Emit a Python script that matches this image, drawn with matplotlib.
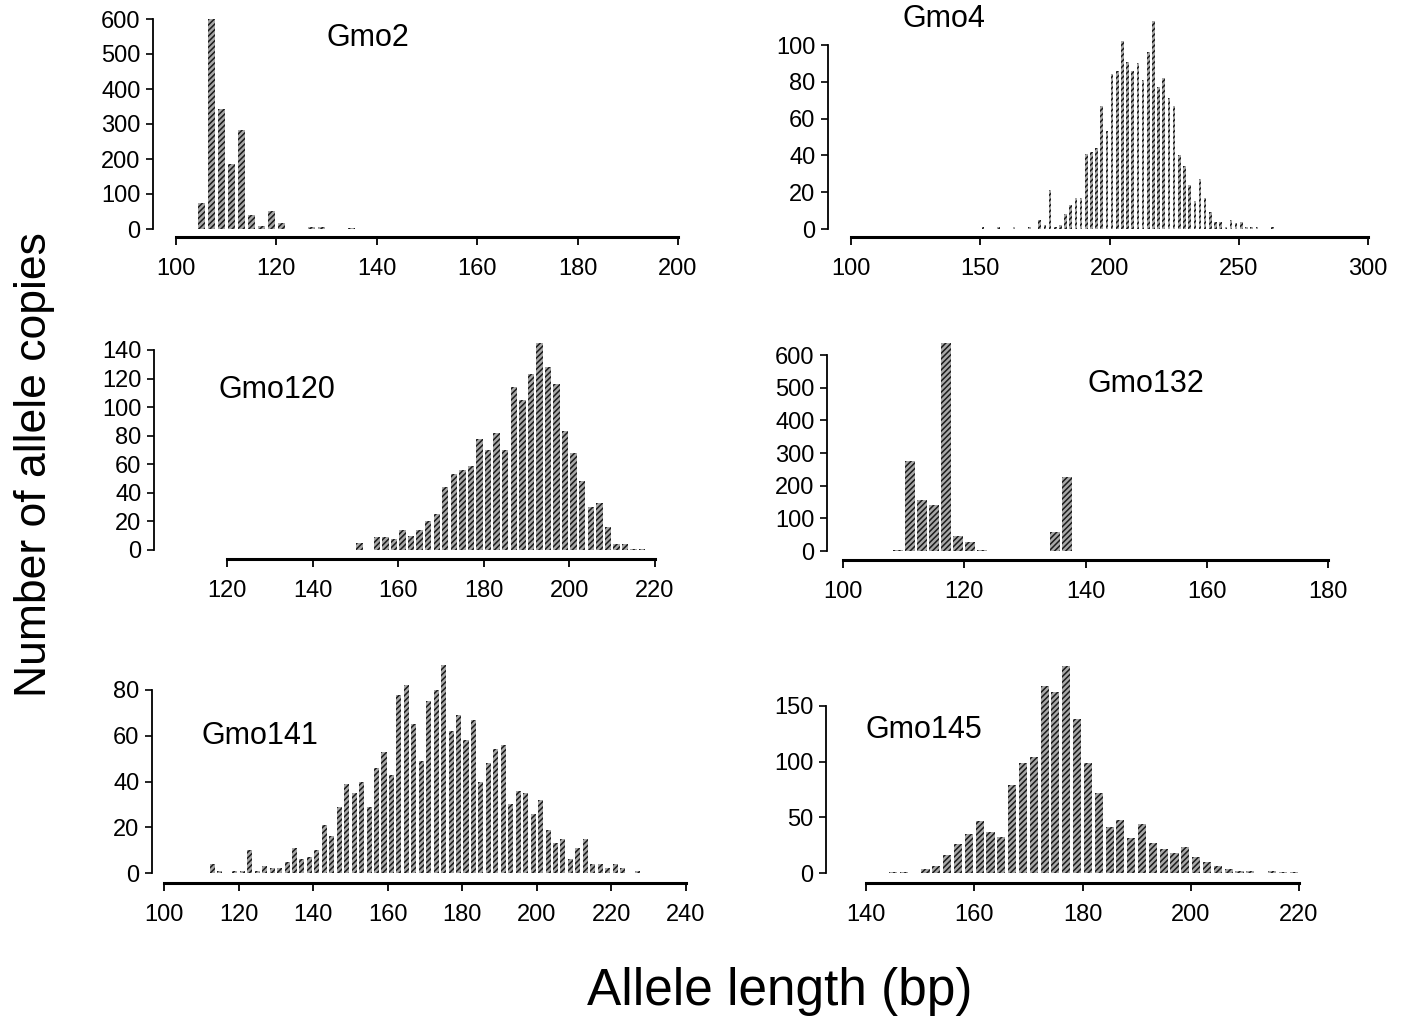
import matplotlib
matplotlib.use("Agg")
import numpy as np
import matplotlib.pyplot as plt

plt.rcParams["font.family"] = ["Liberation Sans", "DejaVu Sans"]
plt.rcParams["hatch.linewidth"] = 1.1

# allele lengths (bp) and counts
gmo2_len = [105, 107, 109, 111, 113, 115, 117, 119, 121, 127, 129, 135]
gmo2_n = [73, 600, 344, 185, 283, 41, 8, 51, 17, 5, 5, 3]

gmo4_len = [151, 157, 163, 169] + list(range(173, 258, 2)) + [263]
gmo4_n = [1, 1, 1, 1, 5, 2, 21, 1, 2, 8, 13, 17, 17, 41, 42, 44, 67, 53,
          84, 86, 102, 91, 86, 90, 81, 96, 113, 77, 82, 71, 67, 40, 34, 24,
          15, 27, 17, 9, 4, 4, 1, 5, 3, 4, 1, 1, 1, 1]

gmo120_len = [151] + list(range(155, 218, 2))
gmo120_n = [5, 9, 9, 8, 14, 10, 14, 20, 25, 44, 53, 56, 59, 78, 70, 82, 70,
            114, 105, 123, 145, 128, 116, 83, 68, 48, 30, 33, 16, 4, 4, 1, 1]

gmo132_len = [109, 111, 113, 115, 117, 119, 121, 123, 135, 137]
gmo132_n = [3, 275, 155, 142, 637, 46, 28, 3, 58, 227]

gmo141_len = [113, 115] + list(range(119, 224, 2)) + [227]
gmo141_n = [4, 1, 1, 1, 10, 1, 3, 2, 2, 5, 11, 6, 7, 10, 21, 16, 29, 39, 35,
            40, 29, 46, 53, 43, 78, 82, 65, 49, 75, 80, 91, 62, 69, 58, 67,
            40, 48, 54, 56, 30, 36, 35, 26, 32, 19, 13, 15, 6, 11, 15, 4, 4,
            2, 4, 2, 1]

gmo145_len = [145, 147] + list(range(151, 212, 2)) + [215, 217, 219]
gmo145_n = [1, 1, 4, 6, 16, 26, 35, 47, 37, 32, 79, 99, 104, 168, 163, 186,
            138, 99, 72, 41, 48, 31, 44, 27, 22, 18, 23, 14, 10, 6, 4, 2, 2,
            2, 1, 1]

W, H = 1401, 1017
fig = plt.figure(figsize=(W / 100, H / 100), dpi=100)
PT = 0.72  # points per pixel at dpi 100


def panel(name, lens, counts, xlim, xstep, ylim, ystep, px, spine_x, axis_y,
          bar_w, label_xy):
    x0, x1, y0, y1 = px
    ax = fig.add_axes([x0 / W, 1 - y0 / H, (x1 - x0) / W, (y0 - y1) / H])
    ax.bar(lens, counts, width=bar_w, facecolor="#a8a8a8", edgecolor="#1a1a1a",
           hatch="//////", linewidth=0, clip_on=False)
    ax.set_xlim(*xlim)
    ax.set_ylim(0, ylim)
    ax.set_xticks(np.arange(xlim[0], xlim[1] + 1, xstep))
    ax.set_yticks(np.arange(0, ylim + 1, ystep))
    for s in ["top", "right"]:
        ax.spines[s].set_visible(False)
    ax.spines["left"].set_position(("outward", (x0 - spine_x) * PT))
    ax.spines["bottom"].set_position(("outward", (axis_y - y0) * PT))
    ax.spines["left"].set_bounds(0, ylim)
    ax.spines["bottom"].set_bounds(*xlim)
    ax.spines["left"].set_linewidth(1.3)
    ax.spines["bottom"].set_linewidth(2.2)
    ax.tick_params(axis="y", length=5, width=1.2, pad=4, labelsize=17)
    ax.tick_params(axis="x", length=6, width=1.3, pad=9, labelsize=17)
    ax.patch.set_visible(False)
    fig.text(label_xy[0] / W, 1 - label_xy[1] / H, name, fontsize=22,
             ha="center", va="center")
    return ax


panel("Gmo2", gmo2_len, gmo2_n, (100, 200), 20, 600, 100,
      (176, 678, 229, 19), 153, 237, 1.4, (368, 38))
panel("Gmo4", gmo4_len, gmo4_n, (100, 300), 50, 100, 20,
      (851, 1368, 229, 45), 828, 237, 1.0, (944, 19))
panel("Gmo120", gmo120_len, gmo120_n, (120, 220), 20, 140, 20,
      (227, 655, 550, 350), 154, 559, 1.5, (277, 390))
panel("Gmo132", gmo132_len, gmo132_n, (100, 180), 20, 600, 100,
      (843, 1328, 551, 355), 827, 560, 1.65, (1146, 384))
panel("Gmo141", gmo141_len, gmo141_n, (100, 240), 20, 80, 20,
      (164, 686, 873, 690), 152, 883, 1.35, (260, 736))
panel("Gmo145", gmo145_len, gmo145_n, (140, 220), 20, 150, 50,
      (866, 1299, 873, 706), 826, 883, 1.5, (924, 730))

fig.text(35 / W, 1 - 465 / H, "Number of allele copies", rotation=90,
         fontsize=32, ha="center", va="center")
fig.text(780 / W, 1 - 992 / H, "Allele length (bp)", fontsize=37,
         ha="center", va="center")

fig.savefig("out.png", dpi=100)
